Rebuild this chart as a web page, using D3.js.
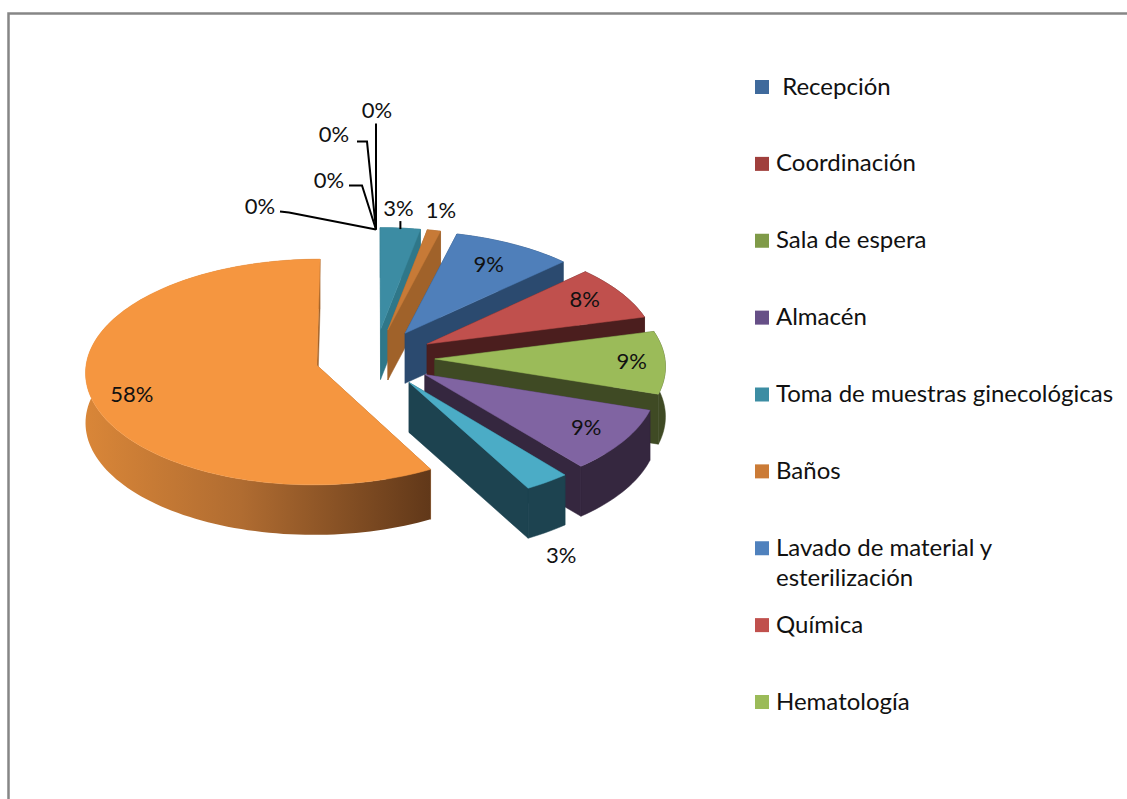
<!DOCTYPE html>
<html>
<head>
<meta charset="utf-8">
<script src="https://cdnjs.cloudflare.com/ajax/libs/d3/7.8.5/d3.min.js"></script>
<style>
  html, body { margin: 0; padding: 0; background: #fff; }
  svg { display: block; }
  text { font-family: Lato, "Open Sans", sans-serif; fill: #111; white-space: pre; }
</style>
</head>
<body>
<div id="chart"></div>
<script>
// legend only lists the first nine, the last three slices have no visible name
var categories = [" Recepción", "Coordinación", "Sala de espera", "Almacén",
  "Toma de muestras ginecológicas", "Baños", "Lavado de material y|esterilización",
  "Química", "Hematología", "", "", ""];
var values = [0, 0, 0, 0, 3, 1, 9, 8, 9, 9, 3, 58];
var labels = ["0%", "0%", "0%", "0%", "3%", "1%", "9%", "8%", "9%", "9%", "3%", "58%"];

var topColors = ["#4f81bd", "#c0504d", "#9bbb59", "#8064a2", "#3c8ca3", "#c77a37",
  "#4f7fba", "#c0504d", "#9bbb59", "#8064a2", "#4bacc6", "#f59640"];
var wallColors = ["#2b4a6f", "#4b1e1e", "#3f4a24", "#35273f", "#2f7789", "#a0622a",
  "#2b4a6f", "#4b1e1e", "#3f4a24", "#35273f", "#1d4350", "#a0622a"];
var legendColors = ["#3f6a9c", "#a03f3c", "#7f9a48", "#664f87", "#3c8da3", "#cb7b36",
  "#4f81bd", "#c0504d", "#9bbb59"];

var width = 1127, height = 799;
var explode = 0.26, wallH = 50;

var svg = d3.select("#chart").append("svg")
    .attr("width", width)
    .attr("height", height)
    .attr("viewBox", "0 0 " + width + " " + height);

// frame, only top and left show
svg.append("path")
    .attr("d", "M8.5," + height + "V13.5H" + width)
    .attr("fill", "none")
    .attr("stroke", "#868686")
    .attr("stroke-width", 2.5);

// pie plane -> screen, a bit of perspective (near side bigger)
var xScale = d3.scaleLinear().domain([-1, 1]).range([375 - 230, 375 + 230]);
var yScale = d3.scaleLinear().domain([-1, 1]).range([358 - 112, 358 + 112]);

function project(u, v, drop) {
    return [xScale(u * (1 + 0.055 * v)), yScale(v + 0.06 * v * v) + (drop || 0)];
}

var pie = d3.pie().sort(null).value(function(d){ return d; });
var arcs = pie(values);

// point of a slice at angle a and radius r, a is clockwise from the top
function slicePoint(d, a, r, drop) {
    var m = (d.startAngle + d.endAngle) / 2;
    return project(explode * Math.sin(m) + r * Math.sin(a),
                   -explode * Math.cos(m) - r * Math.cos(a), drop);
}

function rimAngles(d) {
    var n = Math.max(2, Math.ceil((d.endAngle - d.startAngle) / 0.03));
    return d3.range(n + 1).map(function(i){
        return d.startAngle + (d.endAngle - d.startAngle) * i / n;
    });
}

var line = d3.line();
function polygon(pts) { return line(pts) + "Z"; }

// gradient of the big slice's wall
var grad = svg.append("defs").append("linearGradient")
    .attr("id", "bigWall");
grad.append("stop").attr("offset", "0%").attr("stop-color", "#d98638");
grad.append("stop").attr("offset", "45%").attr("stop-color", "#b06c31");
grad.append("stop").attr("offset", "100%").attr("stop-color", "#613819");

var slices = svg.selectAll("g.slice")
    .data(arcs.filter(function(d){ return d.value > 0; }))
    .enter().append("g").classed("slice", true);

slices.each(function(d){
    var g = d3.select(this),
        wall = wallColors[d.index],
        angles = rimAngles(d),
        isBig = d.value > 50;

    function radial(a) {
        return polygon([slicePoint(d, a, 0), slicePoint(d, a, 1),
                       slicePoint(d, a, 1, wallH), slicePoint(d, a, 0, wallH)]);
    }

    g.append("path").attr("d", radial(d.startAngle))
        .attr("fill", wall).attr("stroke", wall).attr("stroke-width", 0.5);

    var upper = angles.map(function(a){ return slicePoint(d, a, 1); });
    var lower = angles.map(function(a){ return slicePoint(d, a, 1, wallH); }).reverse();
    g.append("path").attr("d", polygon(upper.concat(lower)))
        .attr("fill", isBig ? "url(#bigWall)" : wall)
        .attr("stroke", isBig ? "none" : wall).attr("stroke-width", 0.5);

    g.append("path").attr("d", radial(d.endAngle))
        .attr("fill", wall).attr("stroke", wall).attr("stroke-width", 0.5);

    g.append("path")
        .attr("d", polygon([slicePoint(d, d.startAngle, 0)].concat(upper)))
        .attr("fill", topColors[d.index])
        .attr("stroke", topColors[d.index]).attr("stroke-width", 0.5);
});

// data labels: radius inside the slice, then a pixel nudge
var labelPlace = [
    {r: 1, dx: -115, dy: -22}, {r: 1, dx: -46, dy: -48}, {r: 1, dx: -41, dy: -94}, {r: 1, dx: 2, dy: -118},
    {r: 1, dx: -2, dy: -21}, {r: 1, dx: 7, dy: -21}, {r: 0.76, dx: 0, dy: -1}, {r: 0.8, dx: 2, dy: -4},
    {r: 0.85, dx: 1, dy: -1}, {r: 0.81, dx: 1, dy: -1}, {r: 1, dx: 14, dy: 72}, {r: 0.82, dx: 1, dy: 5}
];

svg.selectAll("text.pct")
    .data(arcs)
    .enter().append("text").classed("pct", true)
    .attr("text-anchor", "middle")
    .attr("dominant-baseline", "central")
    .attr("font-size", 22)
    .attr("x", function(d){
        var m = (d.startAngle + d.endAngle) / 2;
        return slicePoint(d, m, labelPlace[d.index].r)[0] + labelPlace[d.index].dx;
    })
    .attr("y", function(d){
        var m = (d.startAngle + d.endAngle) / 2;
        return slicePoint(d, m, labelPlace[d.index].r)[1] + labelPlace[d.index].dy;
    })
    .text(function(d, i){ return labels[i]; });

// leader lines of the zero slices all meet at the top of the pie
var anchor = slicePoint(arcs[0], 0, 1, 2);
var leaderBends = [
    [[-95, -18], [-86, -17], [1, 0]],
    [[-26, -44], [-13, -44], [1, 0]],
    [[-18, -88], [-8, -88], [1, 0]],
    [[1, -106], [1, 0]]
];
svg.selectAll("path.leader")
    .data(leaderBends)
    .enter().append("path").classed("leader", true)
    .attr("d", function(b){
        return line(b.map(function(p){ return [anchor[0] + p[0], anchor[1] + p[1]]; }));
    })
    .attr("fill", "none")
    .attr("stroke", "#000")
    .attr("stroke-width", 2);

// short tick for the 3% slice
var tomaRim = slicePoint(arcs[4], (arcs[4].startAngle + arcs[4].endAngle) / 2, 1);
svg.append("path")
    .attr("d", line([[tomaRim[0], tomaRim[1] - 7], [tomaRim[0], tomaRim[1] + 1]]))
    .attr("stroke", "#000")
    .attr("stroke-width", 2);

// legend
var legendNames = categories.slice(0, legendColors.length);
var legendY = d3.scalePoint()
    .domain(d3.range(legendNames.length))
    .range([87, 702]);

var legend = svg.selectAll("g.key")
    .data(legendNames)
    .enter().append("g").classed("key", true)
    .attr("transform", function(d, i){ return "translate(755," + legendY(i) + ")"; });

legend.append("rect")
    .attr("y", -7)
    .attr("width", 14)
    .attr("height", 14)
    .attr("fill", function(d, i){ return legendColors[i]; });

legend.append("text")
    .attr("x", 21)
    .attr("font-size", 24)
    .each(function(d){
        var self = d3.select(this);
        d.split("|").forEach(function(part, i){
            self.append("tspan")
                .attr("x", 21)
                .attr("y", i * 30 - 2)
                .attr("dominant-baseline", "central")
                .text(part);
        });
    });
</script>
</body>
</html>
